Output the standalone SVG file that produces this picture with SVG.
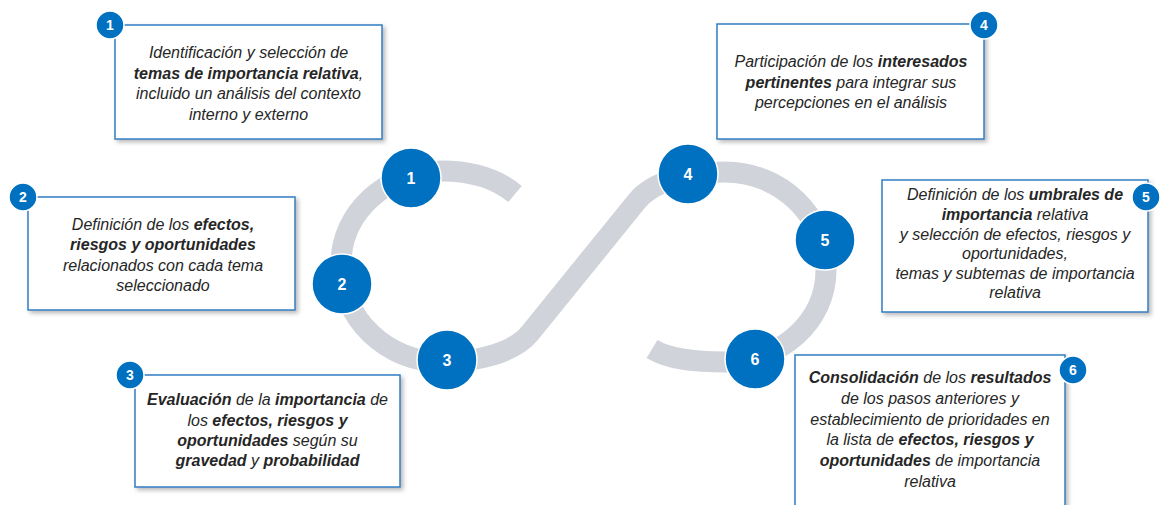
<svg xmlns="http://www.w3.org/2000/svg" width="1162" height="505" viewBox="0 0 1162 505">
<defs>
<filter id="sh" x="-10%" y="-10%" width="125%" height="130%">
<feDropShadow dx="2.5" dy="2.5" stdDeviation="2" flood-color="#7f7f7f" flood-opacity="0.55"/>
</filter>
</defs>
<style>
.track{fill:none;stroke:#d1d3da;stroke-width:21;stroke-linecap:butt;stroke-linejoin:round}
.node{fill:#0070c0;stroke:#ffffff;stroke-width:1.5}
.nnum{font-family:"Liberation Sans",Arial,sans-serif;font-weight:bold;font-size:16px;fill:#ffffff;text-anchor:middle}
.box{fill:#ffffff;stroke:#2f7fc4;stroke-width:1.5;filter:url(#sh)}
.badge{fill:#0070c0;stroke:#ffffff;stroke-width:1.5}
.bnum{font-family:"Liberation Sans",Arial,sans-serif;font-weight:bold;font-size:14px;fill:#ffffff;text-anchor:middle}
.t{font-family:"Liberation Sans",Arial,sans-serif;font-style:italic;font-size:16px;fill:#262626;text-anchor:middle}
.b{font-weight:bold}
</style>
<rect width="1162" height="505" fill="#ffffff"/>
<g id="connectors">
<path class="track" d="M 515 194 C 497 179, 472 171, 442 171 C 387 171, 341 212, 341 264 C 341 319, 387 362, 442 362 C 477 362, 514 353, 530 333 L 637 201 C 653 181, 690 172, 725 172 C 780 172, 826 215, 826 270 C 826 322, 780 362, 725 362 C 697 362, 670 360, 652 349"/>
</g>
<g id="node1"><circle class="node" cx="411" cy="178" r="30"/><text class="nnum" x="411" y="184">1</text></g>
<g id="node2"><circle class="node" cx="342" cy="284" r="30"/><text class="nnum" x="342" y="290">2</text></g>
<g id="node3"><circle class="node" cx="447" cy="360" r="30"/><text class="nnum" x="447" y="366">3</text></g>
<g id="node4"><circle class="node" cx="688" cy="174" r="30"/><text class="nnum" x="688" y="180">4</text></g>
<g id="node5"><circle class="node" cx="825" cy="240" r="30"/><text class="nnum" x="825" y="246">5</text></g>
<g id="node6"><circle class="node" cx="755" cy="359" r="30"/><text class="nnum" x="755" y="365">6</text></g>

<g id="box1">
<rect class="box" x="115" y="25" width="267" height="114"/>
<circle class="badge" cx="110" cy="25" r="14"/><text class="bnum" x="110" y="30">1</text>
<text class="t" x="248.5" y="58">Identificación y selección de</text>
<text class="t" x="248.5" y="78.5"><tspan class="b">temas de importancia relativa</tspan>,</text>
<text class="t" x="248.5" y="99">incluido un análisis del contexto</text>
<text class="t" x="248.5" y="119.5">interno y externo</text>
</g>
<g id="box2">
<rect class="box" x="28" y="197" width="267" height="113"/>
<circle class="badge" cx="23" cy="197" r="14"/><text class="bnum" x="23" y="202">2</text>
<text class="t" x="163" y="229.5">Definición de los <tspan class="b">efectos,</tspan></text>
<text class="t" x="163" y="250"><tspan class="b">riesgos y oportunidades</tspan></text>
<text class="t" x="163" y="270.5">relacionados con cada tema</text>
<text class="t" x="163" y="291">seleccionado</text>
</g>
<g id="box3">
<rect class="box" x="135" y="375" width="265" height="112"/>
<circle class="badge" cx="130" cy="375" r="14"/><text class="bnum" x="130" y="380">3</text>
<text class="t" x="267.5" y="405"><tspan class="b">Evaluación</tspan> de la <tspan class="b">importancia</tspan> de</text>
<text class="t" x="267.5" y="425.5">los <tspan class="b">efectos, riesgos y</tspan></text>
<text class="t" x="267.5" y="446"><tspan class="b">oportunidades</tspan> según su</text>
<text class="t" x="267.5" y="466"><tspan class="b">gravedad</tspan> y <tspan class="b">probabilidad</tspan></text>
</g>
<g id="box4">
<rect class="box" x="717" y="24" width="267" height="115"/>
<circle class="badge" cx="984" cy="25" r="14"/><text class="bnum" x="984" y="30">4</text>
<text class="t" x="851" y="67">Participación de los <tspan class="b">interesados</tspan></text>
<text class="t" x="851" y="87.5"><tspan class="b">pertinentes</tspan> para integrar sus</text>
<text class="t" x="851" y="107.5">percepciones en el análisis</text>
</g>
<g id="box5">
<rect class="box" x="882" y="180" width="266" height="132"/>
<circle class="badge" cx="1146" cy="197" r="14"/><text class="bnum" x="1146" y="202">5</text>
<text class="t" x="1015" y="200">Definición de los <tspan class="b">umbrales de</tspan></text>
<text class="t" x="1015" y="220"><tspan class="b">importancia</tspan> relativa</text>
<text class="t" x="1015" y="239.5">y selección de efectos, riesgos y</text>
<text class="t" x="1015" y="259">oportunidades,</text>
<text class="t" x="1015" y="278.5">temas y subtemas de importancia</text>
<text class="t" x="1015" y="298">relativa</text>
</g>
<g id="box6">
<rect class="box" x="795" y="355" width="270" height="160"/>
<circle class="badge" cx="1073" cy="370" r="14"/><text class="bnum" x="1073" y="375">6</text>
<text class="t" x="930" y="383"><tspan class="b">Consolidación</tspan> de los <tspan class="b">resultados</tspan></text>
<text class="t" x="930" y="404">de los pasos anteriores y</text>
<text class="t" x="930" y="424.5">establecimiento de prioridades en</text>
<text class="t" x="930" y="445">la lista de <tspan class="b">efectos, riesgos y</tspan></text>
<text class="t" x="930" y="466"><tspan class="b">oportunidades</tspan> de importancia</text>
<text class="t" x="930" y="486.5">relativa</text>
</g>
</svg>
